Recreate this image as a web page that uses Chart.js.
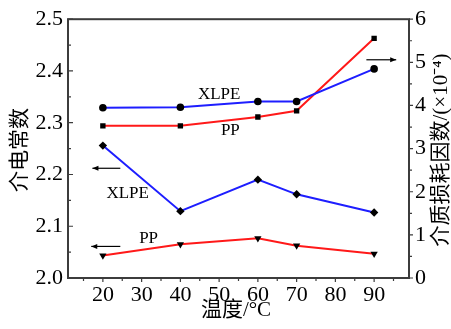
<!DOCTYPE html>
<html>
<head>
<meta charset="utf-8">
<script src="https://cdn.jsdelivr.net/npm/chart.js@4/dist/chart.umd.min.js"></script>
<style>
  html, body { margin: 0; padding: 0; background: #fff; }
  #wrap { width: 451px; height: 329px; }
</style>
</head>
<body>
<div id="wrap"><canvas id="dielectricChart" width="451" height="329"></canvas></div>
<script>
// 温度 (℃)
const temps = [20, 40, 60, 70, 90];
// 介电常数 (左轴)
const permXLPE = [2.329, 2.330, 2.341, 2.341, 2.404];
const permPP = [2.294, 2.294, 2.311, 2.323, 2.463];
// 介质损耗因数 ×10^-4 (右轴)
const lossXLPE = [3.07, 1.55, 2.28, 1.94, 1.52];
const lossPP = [0.52, 0.78, 0.92, 0.75, 0.56];

// 刻度
const xTicks = [20, 30, 40, 50, 60, 70, 80, 90];
const xMinor = [15, 25, 35, 45, 55, 65, 75, 85, 95];
const leftTicks = [2.0, 2.1, 2.2, 2.3, 2.4, 2.5];
const leftMinor = [2.05, 2.15, 2.25, 2.35, 2.45];
const rightTicks = [0, 1, 2, 3, 4, 5, 6];
const rightMinor = [0.5, 1.5, 2.5, 3.5, 4.5, 5.5];

// 注释文字与箭头 (数据坐标)
const labelNotes = [
    { text: 'XLPE', x: 50, y: 2.355 },
    { text: 'PP', x: 52.9, y: 2.285 },
    { text: 'XLPE', x: 26.4, y: 2.164 },
    { text: 'PP', x: 31.8, y: 2.077 }
];
const arrowNotes = [
    { from: 24.5, to: 17.3, y: 2.212 },
    { from: 24.5, to: 17.0, y: 2.061 },
    { from: 88.0, to: 95.7, y: 2.4216 }
];

const serif = "'Liberation Serif', 'Noto Sans CJK SC', serif";
const BLUE = 'rgb(30, 30, 255)';
const RED = 'rgb(255, 25, 25)';
const FRAME = '#3c3c3c';

function pairs(values) {
    return temps.map((t, i) => ({ x: t, y: values[i] }));
}

const decorPlugin = {
    id: 'decor',
    afterDraw(chart) {
        const ctx = chart.ctx;
        const area = chart.chartArea;
        const sx = chart.scales.x, sy = chart.scales.y, sy1 = chart.scales.y1;
        ctx.save();

        // 外框
        ctx.strokeStyle = FRAME;
        ctx.lineWidth = 2;
        ctx.strokeRect(area.left, area.top, area.right - area.left, area.bottom - area.top);

        // 刻度线
        ctx.lineWidth = 1.2;
        ctx.beginPath();
        leftTicks.forEach(v => { const p = sy.getPixelForValue(v); ctx.moveTo(area.left, p); ctx.lineTo(area.left + 5, p); });
        leftMinor.forEach(v => { const p = sy.getPixelForValue(v); ctx.moveTo(area.left, p); ctx.lineTo(area.left + 3, p); });
        rightTicks.forEach(v => { const p = sy1.getPixelForValue(v); ctx.moveTo(area.right, p); ctx.lineTo(area.right + 4, p); });
        rightMinor.forEach(v => { const p = sy1.getPixelForValue(v); ctx.moveTo(area.right, p); ctx.lineTo(area.right + 3, p); });
        xTicks.forEach(v => { const p = sx.getPixelForValue(v); ctx.moveTo(p, area.bottom); ctx.lineTo(p, area.bottom + 4); });
        xMinor.forEach(v => { const p = sx.getPixelForValue(v); ctx.moveTo(p, area.bottom); ctx.lineTo(p, area.bottom + 3); });
        ctx.stroke();

        // 注释文字
        ctx.fillStyle = '#000';
        ctx.font = '17px ' + serif;
        ctx.textAlign = 'center';
        ctx.textBaseline = 'middle';
        labelNotes.forEach(n => {
            ctx.fillText(n.text, sx.getPixelForValue(n.x), sy.getPixelForValue(n.y));
        });

        // 箭头
        ctx.strokeStyle = '#000';
        ctx.lineWidth = 1.2;
        arrowNotes.forEach(a => {
            const x0 = sx.getPixelForValue(a.from), x1 = sx.getPixelForValue(a.to);
            const y = sy.getPixelForValue(a.y);
            const d = x1 > x0 ? -1 : 1;
            ctx.beginPath();
            ctx.moveTo(x0, y); ctx.lineTo(x1, y);
            ctx.stroke();
            ctx.beginPath();
            ctx.moveTo(x1, y);
            ctx.lineTo(x1 + d * 6, y - 2.5);
            ctx.lineTo(x1 + d * 6, y + 2.5);
            ctx.closePath();
            ctx.fill();
        });

        // 轴标题
        ctx.font = '21px ' + serif;
        ctx.save();
        ctx.translate(20, 150);
        ctx.rotate(-Math.PI / 2);
        ctx.fillText('介电常数', 0, 0);
        ctx.restore();

        ctx.save();
        ctx.translate(441, 150);
        ctx.rotate(-Math.PI / 2);
        ctx.fillText('介质损耗因数/(×10⁻⁴)', 0, 0);
        ctx.restore();

        ctx.fillText('温度/°C', 236, 310);
        ctx.restore();
    }
};

const tickFont = { family: serif, size: 22 };

new Chart(document.getElementById('dielectricChart'), {
    type: 'line',
    data: {
        datasets: [
            {
                label: 'XLPE 介电常数',
                data: pairs(permXLPE),
                yAxisID: 'y',
                borderColor: BLUE,
                borderWidth: 2,
                pointStyle: 'circle',
                pointRadius: 3.8,
                pointBackgroundColor: '#000',
                pointBorderColor: '#000',
                pointBorderWidth: 0
            },
            {
                label: 'PP 介电常数',
                data: pairs(permPP),
                yAxisID: 'y',
                borderColor: RED,
                borderWidth: 2,
                pointStyle: 'rect',
                pointRadius: 3.8,
                pointBackgroundColor: '#000',
                pointBorderColor: '#000',
                pointBorderWidth: 0
            },
            {
                label: 'XLPE 介质损耗因数',
                data: pairs(lossXLPE),
                yAxisID: 'y1',
                borderColor: BLUE,
                borderWidth: 2,
                pointStyle: 'rectRot',
                pointRadius: 4.2,
                pointBackgroundColor: '#000',
                pointBorderColor: '#000',
                pointBorderWidth: 0
            },
            {
                label: 'PP 介质损耗因数',
                data: pairs(lossPP),
                yAxisID: 'y1',
                borderColor: RED,
                borderWidth: 2,
                pointStyle: 'triangle',
                pointRotation: 180,
                pointRadius: 4.2,
                pointBackgroundColor: '#000',
                pointBorderColor: '#000',
                pointBorderWidth: 0
            }
        ]
    },
    options: {
        responsive: false,
        animation: false,
        layout: { padding: { top: 15, left: 0, right: 0, bottom: 0 } },
        scales: {
            x: {
                type: 'linear',
                min: 11,
                max: 99,
                afterBuildTicks: s => { s.ticks = xTicks.map(v => ({ value: v })); },
                afterFit: s => { s.height = 51; },
                grid: { display: false, drawTicks: false },
                border: { display: false },
                ticks: { font: tickFont, color: '#000', padding: 4, autoSkip: false, maxRotation: 0 }
            },
            y: {
                position: 'left',
                min: 2.0,
                max: 2.5,
                afterBuildTicks: s => { s.ticks = leftTicks.map(v => ({ value: v })); },
                afterFit: s => { s.width = 68; },
                grid: { display: false, drawTicks: false },
                border: { display: false },
                ticks: { font: tickFont, color: '#000', padding: 5, callback: v => Number(v).toFixed(1) }
            },
            y1: {
                position: 'right',
                min: 0,
                max: 6,
                afterBuildTicks: s => { s.ticks = rightTicks.map(v => ({ value: v })); },
                afterFit: s => { s.width = 42; },
                grid: { display: false, drawTicks: false },
                border: { display: false },
                ticks: { font: tickFont, color: '#000', padding: 6 }
            }
        },
        plugins: {
            legend: { display: false },
            tooltip: { enabled: false }
        }
    },
    plugins: [decorPlugin]
});
</script>
</body>
</html>
